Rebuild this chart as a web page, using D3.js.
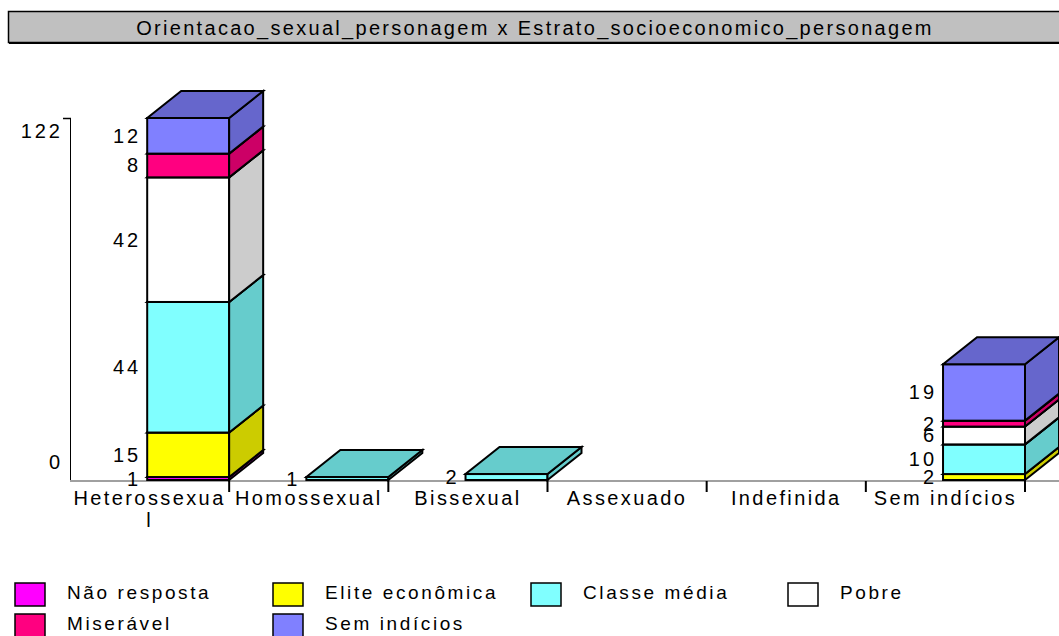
<!DOCTYPE html>
<html>
<head>
<meta charset="utf-8">
<script src="https://cdn.jsdelivr.net/npm/d3@7"></script>
<style>
  body { margin: 0; background: #fff; }
  text { font-family: "Liberation Sans", Arial, sans-serif; fill: #000; }
</style>
</head>
<body>
<script>
// dados do grafico
var titulo = "Orientacao_sexual_personagem x Estrato_socioeconomico_personagem";
var categorias = ["Heterossexual", "Homossexual", "Bissexual", "Assexuado", "Indefinida", "Sem indícios"];
var series = ["Não resposta", "Elite econômica", "Classe média", "Pobre", "Miserável", "Sem indícios"];

var naoResposta = [1, 0, 0, 0, 0, 0];
var eliteEconomica = [15, 0, 0, 0, 0, 2];
var classeMedia = [44, 1, 2, 0, 0, 10];
var pobre = [42, 0, 0, 0, 0, 6];
var miseravel = [8, 0, 0, 0, 0, 2];
var semIndicios = [12, 0, 0, 0, 0, 19];

var valores = [naoResposta, eliteEconomica, classeMedia, pobre, miseravel, semIndicios];

var coresFrente = ["#FF00FF", "#FFFF00", "#80FFFF", "#FFFFFF", "#FF0080", "#8080FF"];
var coresLado = ["#CC00CC", "#CCCC00", "#66CCCC", "#CCCCCC", "#CC0066", "#6666CC"];

var w = 1059;
var h = 636;
var baseY = 480;
var topoY = 118;
var profX = 34;
var profY = -27;

var svg = d3.select("body")
	.append("svg")
	.attr("width", w)
	.attr("height", h);

// titulo
svg.append("rect")
	.attr("x", 8.5)
	.attr("y", 11.5)
	.attr("width", 1060)
	.attr("height", 31)
	.style("fill", "#C0C0C0")
	.style("stroke", "#000")
	.style("stroke-width", 1.5);

svg.append("line")
	.attr("x1", 9).attr("x2", w)
	.attr("y1", 43).attr("y2", 43)
	.style("stroke", "#000")
	.style("stroke-width", 2);

svg.append("text")
	.text(titulo)
	.attr("x", 535)
	.attr("y", 35)
	.attr("text-anchor", "middle")
	.style("font-size", "20px")
	.style("letter-spacing", "2.3px");

// escalas
var totais = categorias.map(function(c, i) {
	return d3.sum(valores, function(s) { return s[i]; });
});

var x = d3.scaleBand()
	.domain(categorias)
	.range([70, 1025])
	.paddingInner(0)
	.paddingOuter(0);

var y = d3.scaleLinear()
	.domain([0, d3.max(totais)])
	.range([baseY, topoY]);

var larguraBarra = x.bandwidth() * 0.515;

// eixo Y
svg.append("line")
	.attr("x1", 70.5).attr("x2", 70.5)
	.attr("y1", y(d3.max(totais))).attr("y2", baseY)
	.style("stroke", "#000")
	.style("stroke-width", 1);

svg.append("line")
	.attr("x1", 63).attr("x2", 71)
	.attr("y1", y(d3.max(totais)) + 0.5).attr("y2", y(d3.max(totais)) + 0.5)
	.style("stroke", "#000")
	.style("stroke-width", 1.5);

var ticksY = [0, d3.max(totais)];
svg.selectAll(".tickY")
	.data(ticksY)
	.enter()
	.append("text")
	.attr("class", "tickY")
	.text(function(d) { return d; })
	.attr("x", 63)
	.attr("y", function(d) { return y(d) + (d == 0 ? -18 : 13); })
	.attr("dy", "0.35em")
	.attr("text-anchor", "end")
	.style("font-size", "20px")
	.style("letter-spacing", "3px");

// eixo X
svg.append("line")
	.attr("x1", 70).attr("x2", w)
	.attr("y1", baseY + 1).attr("y2", baseY + 1)
	.style("stroke", "#808080")
	.style("stroke-width", 1.5);

svg.selectAll(".tickX")
	.data(categorias)
	.enter()
	.append("line")
	.attr("x1", function(d) { return x(d) + x.bandwidth(); })
	.attr("x2", function(d) { return x(d) + x.bandwidth(); })
	.attr("y1", baseY + 1)
	.attr("y2", baseY + 12)
	.style("stroke", "#000")
	.style("stroke-width", 2);

// rotulos das categorias (quebra por caractere como no original)
categorias.forEach(function(c) {
	var t = svg.append("text")
		.attr("x", x(c) + x.bandwidth() / 2)
		.attr("y", 505)
		.attr("text-anchor", "middle")
		.style("font-size", "20px")
		.style("letter-spacing", "2.4px")
		.text(c);
	var linha1 = c;
	var resto = "";
	while (t.node().getComputedTextLength() > x.bandwidth() - 2 && linha1.length > 1) {
		resto = linha1.slice(-1) + resto;
		linha1 = linha1.slice(0, -1);
		t.text(linha1);
	}
	if (resto != "") {
		svg.append("text")
			.attr("x", x(c) + x.bandwidth() / 2)
			.attr("y", 527)
			.attr("text-anchor", "middle")
			.style("font-size", "20px")
			.style("letter-spacing", "2.4px")
			.text(resto);
	}
});

// barras 3D empilhadas
var gBarras = svg.append("g");

categorias.forEach(function(c, i) {
	var esq = x(c) + x.bandwidth() - larguraBarra;
	var dir = x(c) + x.bandwidth();
	var acum = 0;
	series.forEach(function(s, j) {
		var v = valores[j][i];
		if (v <= 0) return;
		var y0 = y(acum);
		var y1 = y(acum + v);
		acum += v;

		// frente
		gBarras.append("rect")
			.attr("x", esq)
			.attr("y", y1)
			.attr("width", dir - esq)
			.attr("height", y0 - y1)
			.style("fill", coresFrente[j])
			.style("stroke", "#000")
			.style("stroke-width", 2);

		// lado
		gBarras.append("path")
			.attr("d", "M" + dir + "," + y0 + "L" + (dir + profX) + "," + (y0 + profY) +
				"L" + (dir + profX) + "," + (y1 + profY) + "L" + dir + "," + y1 + "Z")
			.style("fill", coresLado[j])
			.style("stroke", "#000")
			.style("stroke-width", 2);

		// topo
		gBarras.append("path")
			.attr("d", "M" + esq + "," + y1 + "L" + dir + "," + y1 +
				"L" + (dir + profX) + "," + (y1 + profY) + "L" + (esq + profX) + "," + (y1 + profY) + "Z")
			.style("fill", coresLado[j])
			.style("stroke", "#000")
			.style("stroke-width", 2);

		// valor
		svg.append("text")
			.text(v)
			.attr("x", esq - 6)
			.attr("y", (y0 + y1) / 2)
			.attr("dy", "0.35em")
			.attr("text-anchor", "end")
			.style("font-size", "20px")
			.style("letter-spacing", "3px");
	});
});

// legenda
var legX = [15, 273, 531, 788];
var legY = [583, 614];

var legende = svg.selectAll(".legenda")
	.data(series)
	.enter()
	.append("g")
	.attr("class", "legenda")
	.attr("transform", function(d, i) {
		return "translate(" + legX[i % 4] + "," + legY[Math.floor(i / 4)] + ")";
	});

legende.append("rect")
	.attr("width", 30)
	.attr("height", 23)
	.style("fill", function(d, i) { return coresFrente[i]; })
	.style("stroke", "#000")
	.style("stroke-width", 1.5);

legende.append("text")
	.text(function(d) { return d; })
	.attr("x", 52)
	.attr("y", 16)
	.style("font-size", "19px")
	.style("letter-spacing", "2.6px");
</script>
</body>
</html>
